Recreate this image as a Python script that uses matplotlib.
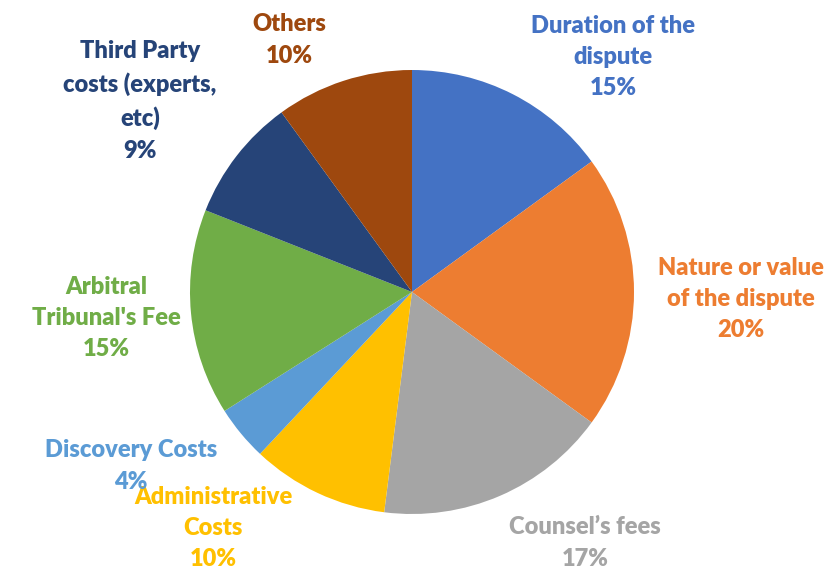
import numpy as np
import matplotlib.pyplot as plt

# slices, clockwise from 12 o'clock
categories = ["Duration of the\ndispute", "Nature or value\nof the dispute", "Counsel\u2019s fees",
              "Administrative\nCosts", "Discovery Costs", "Arbitral\nTribunal's Fee",
              "Third Party\ncosts (experts,\netc)", "Others"]
shares = [15, 20, 17, 10, 4, 15, 9, 10]
colors = ["#4472C4", "#ED7D31", "#A5A5A5", "#FFC000", "#5B9BD5", "#70AD47", "#264478", "#9E480E"]

# label centres in pixels of the 830x572 picture
label_px = [(613, 57), (741, 299), (585, 543), (213, 528), (131, 466), (106, 318), (140, 101), (289, 40)]

W, H = 830, 572
cx, cy, r = 412, 292, 222

fig = plt.figure(figsize=(W / 100, H / 100), dpi=100)
ax = fig.add_axes([(cx - r) / W, (H - cy - r) / H, 2 * r / W, 2 * r / H])
ax.pie(shares, colors=colors, startangle=90, counterclock=False, radius=1,
       wedgeprops=dict(linewidth=0))
ax.set_xlim(-1, 1)
ax.set_ylim(-1, 1)
ax.set_aspect("equal")
ax.axis("off")

for name, val, col, (px, py) in zip(categories, shares, colors, label_px):
    ax.text((px - cx) / r, (cy - py) / r, f"{name}\n{val}%", color=col,
            ha="center", va="center", fontsize=17, fontweight="heavy",
            family="Lato", linespacing=1.52, clip_on=False)

fig.savefig("out.png", dpi=100)
